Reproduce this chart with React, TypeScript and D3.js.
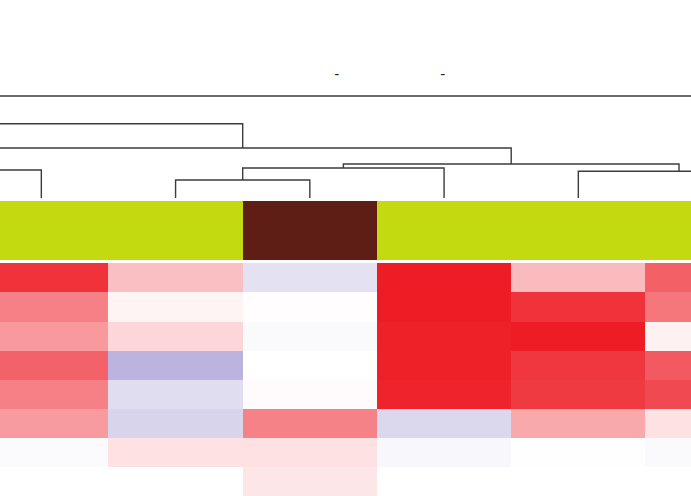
import React from "react";
import * as d3 from "d3";

// Columns (samples) visible in the cropped heatmap
const columns = ["S1", "S2", "S3", "S4", "S5", "S6"];
// Annotation group per column
const columnGroups = ["G1", "G1", "G2", "G1", "G1", "G1"];
const groupColors: Record<string, string> = { G1: "#c4da10", G2: "#5e1d15" };

// Rows (features)
const rows = ["F1", "F2", "F3", "F4", "F5", "F6", "F7", "F8"];

// Values (row-major), -1 (blue) .. 0 (white) .. 1 (red)
const row1 = [0.9, 0.28, -0.2, 1.0, 0.3, 0.7];
const row2 = [0.56, 0.05, 0.01, 1.0, 0.9, 0.6];
const row3 = [0.45, 0.18, -0.04, 0.98, 1.0, 0.06];
const row4 = [0.69, -0.5, 0.0, 0.98, 0.88, 0.73];
const row5 = [0.56, -0.23, 0.02, 0.97, 0.87, 0.8];
const row6 = [0.44, -0.29, 0.55, -0.27, 0.38, 0.13];
const row7 = [-0.03, 0.13, 0.13, -0.05, -0.01, -0.04];
const row8 = [0.0, 0.0, 0.11, 0.0, 0.0, 0.0];
const values = [row1, row2, row3, row4, row5, row6, row7, row8];

// Dendrogram merges: child positions in column-index units, child heights, merge height
const merges = [
  { x0: 1, h0: 0, x1: 2, h1: 0, h: 0.176 },
  { x0: 1.5, h0: 0.176, x1: 3, h1: 0, h: 0.294 },
  { x0: 4, h0: 0, x1: 5.5, h1: 0.2, h: 0.262 },
  { x0: 2.25, h0: 0.294, x1: 4.75, h1: 0.262, h: 0.333 },
  { x0: -1, h0: 0, x1: 0, h1: 0, h: 0.275 },
  { x0: -0.5, h0: 0.275, x1: 3.5, h1: 0.333, h: 0.49 },
  { x0: -3, h0: 0.55, x1: 1.5, h1: 0.49, h: 0.728 },
  { x0: -6, h0: 0.8, x1: 10, h1: 0.8, h: 1.0 },
];

// Small node labels above the tree (column-index units)
const nodeLabels = [
  { pos: 2.2, text: "-" },
  { pos: 2.99, text: "-" },
];

const W = 691;
const H = 496;

export default function App() {
  const xBand = d3.scaleBand<string>().domain(columns).range([-25.8, 779.7]).padding(0);
  const bw = xBand.bandwidth();
  const xPos = d3
    .scaleLinear()
    .domain([0, columns.length - 1])
    .range([(xBand(columns[0]) as number) + bw / 2, (xBand(columns[columns.length - 1]) as number) + bw / 2]);
  const yBand = d3.scaleBand<string>().domain(rows).range([263.3, 496.1]).padding(0);
  const yTree = d3.scaleLinear().domain([0, 1]).range([198, 96]);

  const color = d3
    .scaleLinear<string>()
    .domain([-1, 0, 1])
    .range(["#7869be", "#ffffff", "#ee1c25"])
    .interpolate(d3.interpolateRgb);

  const treePath = (m: typeof merges[number]) => {
    const p = d3.path();
    p.moveTo(xPos(m.x0), yTree(m.h0));
    p.lineTo(xPos(m.x0), yTree(m.h));
    p.lineTo(xPos(m.x1), yTree(m.h));
    p.lineTo(xPos(m.x1), yTree(m.h1));
    return p.toString();
  };

  return (
    <svg
      width={W}
      height={H}
      style={{ position: "absolute", left: 0, top: 0, background: "#ffffff", overflow: "hidden" }}
    >
      <g>
        {merges.map((m, i) => (
          <path key={i} d={treePath(m)} fill="none" stroke="#3c3c3c" strokeWidth={1.4} />
        ))}
      </g>
      <g>
        {nodeLabels.map((l, i) => (
          <text
            key={i}
            x={xPos(l.pos)}
            y={78.5}
            textAnchor="middle"
            fontFamily="DejaVu Sans, sans-serif"
            fontSize={14}
            fill="#222"
          >
            {l.text}
          </text>
        ))}
      </g>
      <g shapeRendering="crispEdges">
        {columns.map((c, i) => (
          <rect
            key={c}
            x={xBand(c) as number}
            y={201}
            width={bw + 0.5}
            height={58.5}
            fill={groupColors[columnGroups[i]]}
          />
        ))}
      </g>
      <g shapeRendering="crispEdges">
        {values.map((row, ri) =>
          row.map((v, ci) => (
            <rect
              key={`${ri}-${ci}`}
              x={xBand(columns[ci]) as number}
              y={yBand(rows[ri]) as number}
              width={bw + 0.5}
              height={yBand.bandwidth() + 0.5}
              fill={color(v)}
            />
          ))
        )}
      </g>
    </svg>
  );
}
